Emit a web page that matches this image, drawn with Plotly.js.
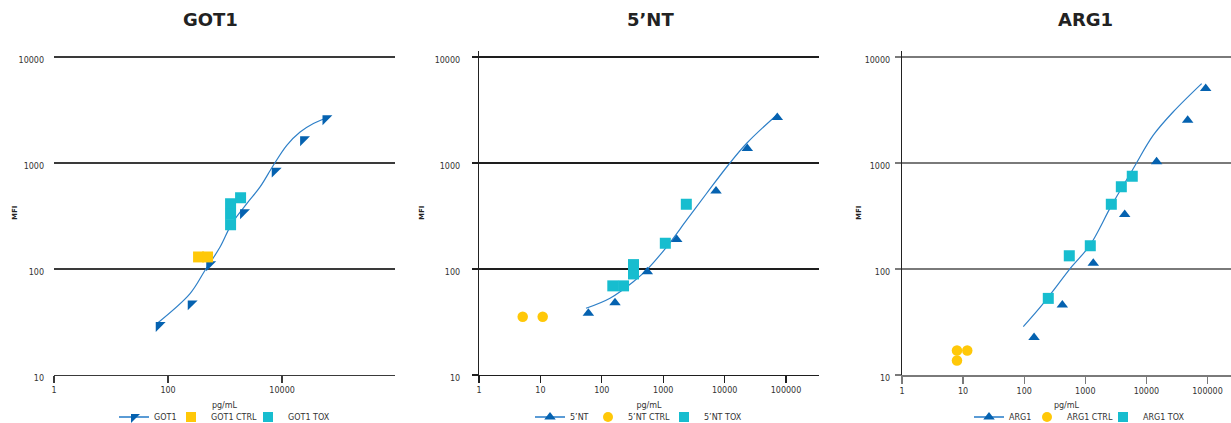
<!DOCTYPE html>
<html><head><meta charset="utf-8">
<script src="https://cdn.plot.ly/plotly-3.0.1.min.js"></script>
<style>html,body{margin:0;padding:0;background:#fff}#chart{width:1231px;height:423px}</style>
</head><body><div id="chart"></div>
<script>
// ---------- data ----------
const panelTitles = ['GOT1', '5’NT', 'ARG1'];
const legendNames = [
  ['GOT1', 'GOT1 CTRL', 'GOT1 TOX'],
  ['5’NT', '5’NT CTRL', '5’NT TOX'],
  ['ARG1', 'ARG1 CTRL', 'ARG1 TOX']
];
const yTickVals = [10, 100, 1000, 10000];
const yTickText = ['10', '100', '1000', '10000'];
const got1XTickVals = [1, 100, 10000];
const got1XTickText = ['1', '100', '10000'];
const xTickVals = [1, 10, 100, 1000, 10000, 100000];
const xTickText = ['1', '10', '100', '1000', '10000', '100000'];

// GOT1
const got1X = [69.5, 253, 535, 2094, 7535, 23650, 58400];
const got1Y = [29.4, 47, 110, 340, 841, 1663, 2625];
const got1FitX = [63.4, 243, 446, 817, 1312, 2404, 4111, 7035, 12080, 20700, 35400, 64900];
const got1FitY = [30.5, 58.6, 97.3, 161, 268, 414, 594, 951, 1468, 1959, 2353, 2716];
const got1CtrlX = [343, 493];
const got1CtrlY = [130, 130];
const got1ToxX = [1249, 1249, 1249, 1871];
const got1ToxY = [412, 328, 261, 470];

// 5'NT
const ntX = [60.4, 164, 551, 1660, 7244, 23400, 72100];
const ntY = [38.2, 48.1, 94.4, 190, 545, 1368, 2692];
const ntFitX = [55.3, 136, 326, 538, 1140, 2415, 5105, 11480, 22900, 70600];
const ntFitY = [42.6, 53, 75.9, 98, 162, 290, 518, 957, 1534, 2837];
const ntCtrlX = [5.15, 10.9];
const ntCtrlY = [35.5, 35.5];
const ntToxX = [151, 226, 328, 328, 1082, 2378];
const ntToxY = [69.3, 69.3, 89.8, 110, 175, 407];

// ARG1
const argX = [145, 421, 1352, 4416, 14700, 47400, 93500];
const argY = [22.6, 45.7, 113, 327, 1026, 2529, 5035];
const argFitX = [96.7, 206, 599, 1195, 2704, 6110, 12970, 27540, 80350];
const argFitY = [28.6, 47.4, 105, 168, 400, 887, 1828, 3040, 5610];
const argCtrlX = [7.94, 11.7, 7.94];
const argCtrlY = [17.0, 17.0, 13.7];
const argToxX = [248, 547, 1208, 2667, 3890, 5875];
const argToxY = [52.8, 133, 166, 409, 597, 751];

// ---------- styling ----------
const FONT = 'DejaVu Sans, Verdana, sans-serif';
const W = 1231, H = 423;
const BLUE = '#0562b0', LINE = '#2f80c8', LEGLINE = '#5a9bd5';
const YELLOW = '#ffc808', CYAN = '#17bdcf';

const panels = [
  {x: got1X, y: got1Y, fx: got1FitX, fy: got1FitY, cx: got1CtrlX, cy: got1CtrlY, tx: got1ToxX, ty: got1ToxY,
   sym: 'triangle-nw', symSize: 11, ctrlSym: 'square', ctrlSize: 11},
  {x: ntX, y: ntY, fx: ntFitX, fy: ntFitY, cx: ntCtrlX, cy: ntCtrlY, tx: ntToxX, ty: ntToxY,
   sym: 'triangle-up', symSize: 10, ctrlSym: 'circle', ctrlSize: 10.5},
  {x: argX, y: argY, fx: argFitX, fy: argFitY, cx: argCtrlX, cy: argCtrlY, tx: argToxX, ty: argToxY,
   sym: 'triangle-up', symSize: 10, ctrlSym: 'circle', ctrlSize: 10.5}
];

// legend item left positions (px) per panel
const legendPos = [[114, 171, 248], [530, 588, 664], [969, 1027, 1103]];
const legendY = 417;

const traces = [];
const layout = {
  width: W, height: H,
  margin: {l: 0, r: 0, t: 0, b: 0, autoexpand: false},
  paper_bgcolor: '#fff', plot_bgcolor: 'rgba(0,0,0,0)',
  font: {family: FONT, color: '#333'},
  annotations: [],
  showlegend: true
};

const xDomains = [[54 / W, 395 / W], [479 / W, 819 / W], [902 / W, 1]];
const xRanges = [[0, 5.98], [0, 5.537], [0, 5.385]];
const yDomain = [(H - 375) / H, (H - 50.6) / H];
const gridColors = ['#3a3a3a', '#1e1e1e', '#7a7a7a'];
const gridWidths = [1.3, 1.3, 2];
const titleCenters = [210, 650, 1085];
const yLabelStandoff = [9, 10, 3];
const yTitleStandoff = [0, 9, 2];

let legIdx = 0;
panels.forEach((p, i) => {
  const sx = i === 0 ? '' : String(i + 1);
  const xa = 'x' + sx, ya = 'y' + sx;
  // fitted curve
  traces.push({x: p.fx, y: p.fy, xaxis: xa, yaxis: ya, mode: 'lines', showlegend: false,
    line: {color: LINE, width: 1.2, shape: 'spline', smoothing: 1}, hoverinfo: 'skip'});
  // standards
  traces.push({x: p.x, y: p.y, xaxis: xa, yaxis: ya, mode: 'markers', showlegend: false,
    marker: {symbol: p.sym, size: p.symSize, color: BLUE}});
  // controls
  traces.push({x: p.cx, y: p.cy, xaxis: xa, yaxis: ya, mode: 'markers', showlegend: false,
    marker: {symbol: p.ctrlSym, size: p.ctrlSize, color: YELLOW}});
  // tox samples
  traces.push({x: p.tx, y: p.ty, xaxis: xa, yaxis: ya, mode: 'markers', showlegend: false,
    marker: {symbol: 'square', size: 11, color: CYAN}});

  // legend-only entries
  const legendSpecs = [
    {mode: 'lines+markers', line: {color: LEGLINE, width: 2}, marker: {symbol: p.sym, size: 10, color: BLUE}},
    {mode: 'markers', marker: {symbol: p.ctrlSym, size: 10, color: YELLOW}},
    {mode: 'markers', marker: {symbol: 'square', size: 10, color: CYAN}}
  ];
  legendSpecs.forEach((s, k) => {
    legIdx++;
    const lname = legIdx === 1 ? 'legend' : 'legend' + legIdx;
    traces.push(Object.assign({x: [null], y: [null], xaxis: xa, yaxis: ya, name: legendNames[i][k],
      legend: lname, showlegend: true, hoverinfo: 'skip'}, s));
    layout[lname] = {x: legendPos[i][k] / W, y: (H - legendY) / H, xanchor: 'left', yanchor: 'middle',
      orientation: 'h', bgcolor: 'rgba(0,0,0,0)', borderwidth: 0,
      font: {family: FONT, size: 8, color: '#333'}};
  });

  layout['xaxis' + sx] = {
    type: 'log', range: xRanges[i], domain: xDomains[i], anchor: ya,
    tickvals: i === 0 ? got1XTickVals : xTickVals, ticktext: i === 0 ? got1XTickText : xTickText,
    showline: true, linecolor: gridColors[i], linewidth: gridWidths[i],
    ticks: 'outside', ticklen: 7, tickcolor: gridColors[i], tickwidth: 1.3,
    showgrid: false, zeroline: false,
    tickfont: {family: FONT, size: 8, color: '#333'},
    title: {text: 'pg/mL', font: {family: FONT, size: 8, color: '#333'}, standoff: 8},
    fixedrange: true
  };
  layout['yaxis' + sx] = {
    type: 'log', range: [1, 4.06], domain: yDomain, anchor: xa,
    tickvals: yTickVals, ticktext: yTickText,
    showgrid: true, gridcolor: gridColors[i], gridwidth: gridWidths[i],
    showline: i !== 0, linecolor: '#222', linewidth: 1.3,
    ticks: i === 0 ? '' : 'outside', ticklen: 6, tickcolor: gridColors[i], tickwidth: gridWidths[i],
    ticklabelshift: 3, ticklabelstandoff: yLabelStandoff[i],
    zeroline: false,
    tickfont: {family: FONT, size: 8, color: '#333'},
    title: {text: 'MFI', font: {family: FONT, size: 7, color: '#222', weight: 'bold'}, standoff: yTitleStandoff[i]},
    fixedrange: true
  };
  layout.annotations.push({
    text: panelTitles[i], xref: 'paper', yref: 'paper', x: titleCenters[i] / W, y: (H - 20) / H,
    xanchor: 'center', yanchor: 'middle', showarrow: false,
    font: {family: FONT, size: 18, color: '#222', weight: 'bold'}
  });
});

Plotly.newPlot('chart', traces, layout, {displayModeBar: false, staticPlot: true});
</script>
</body></html>
